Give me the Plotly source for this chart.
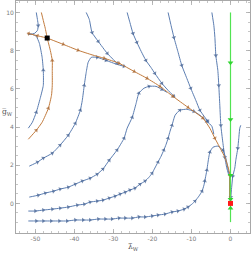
import plotly.graph_objects as go

# ---------------- data ----------------
saddle_x, saddle_y = [-47.0], [8.66]
fixed_x, fixed_y = [0.0], [0.0]

# orange separatrices
o1l_x = [-47.0, -49.5, -51.8]
o1l_y = [8.66, 8.78, 8.90]
o1r_x = [-47.0, -42.9, -39.1, -35.5, -32.4, -28.6, -24.7, -21.4, -18.1, -14.8, -10.9, -7.1, -5.3, -4.0, -1.46, -0.55, -0.1]
o1r_y = [8.66, 8.33, 8.02, 7.78, 7.60, 7.34, 6.91, 6.55, 6.13, 5.61, 5.03, 4.47, 3.94, 3.41, 2.42, 1.85, 1.45]
o2a_x = [-51.84, -49.8, -48.3, -46.7, -45.9, -45.7, -45.7, -45.7, -46.2, -47.0]
o2a_y = [3.36, 3.83, 4.25, 4.98, 5.66, 6.18, 6.97, 7.49, 8.01, 8.66]
o2b_x = [-48.5, -48.0, -47.5, -47.0]
o2b_y = [10.0, 9.58, 9.17, 8.66]
o3_x = [-0.2, -0.2]
o3_y = [1.40, 0.25]

# blue streamlines
b1a_x = [-49.8, -49.5, -49.3, -49.5, -50.3, -51.8]
b1a_y = [10.0, 9.63, 9.32, 9.06, 8.90, 8.85]
b1b_x = [-51.84, -50.8, -49.8, -48.8, -48.0, -48.0, -48.3, -49.0, -49.8, -50.8, -51.8]
b1b_y = [3.94, 4.25, 4.77, 5.50, 6.18, 6.97, 7.65, 8.38, 8.75, 8.85, 8.87]
b2_x = [-37.0, -36.2, -35.5, -33.9, -31.6, -29.1]
b2_y = [10.0, 9.63, 8.95, 8.48, 7.86, 7.34]
b3_x = [-26.5, -25.8, -25.0, -24.0, -22.9, -21.7, -20.4, -19.4, -17.6, -16.0, -14.5]
b3_y = [10.0, 9.48, 8.90, 8.43, 7.96, 7.49, 7.12, 6.81, 6.29, 5.92, 5.61]
b4_x = [-16.0, -15.3, -14.5, -13.5, -12.5, -11.2, -10.2, -8.9, -7.85, -6.8, -5.8]
b4_y = [10.0, 9.37, 8.69, 7.96, 7.23, 6.55, 6.03, 5.40, 4.88, 4.57, 4.30]
b5_x = [-4.78, -4.27, -4.0, -3.76, -3.25, -3.0, -2.74, -2.48, -1.97, -1.46, -0.95, -0.43]
b5_y = [10.0, 9.32, 8.69, 7.75, 6.97, 6.18, 5.14, 4.09, 3.20, 2.42, 1.85, 1.48]
c2_x = [-51.6, -49.5, -48.0, -45.7, -43.7, -41.6, -39.8, -38.5, -38.0, -37.5, -37.0, -36.5, -35.7, -34.2, -31.9, -29.1, -27.3]
c2_y = [1.95, 2.16, 2.37, 2.63, 3.05, 3.57, 4.19, 4.88, 5.40, 6.18, 6.86, 7.39, 7.65, 7.65, 7.49, 7.28, 7.18]
c3_x = [-51.6, -49.3, -47.5, -45.4, -43.7, -41.6, -39.8, -38.0, -36.0, -34.2, -32.7, -31.1, -29.1, -27.3, -26.5, -25.2, -24.2, -23.5, -22.2, -20.9, -19.1, -17.6, -16.3]
c3_y = [0.33, 0.43, 0.54, 0.64, 0.75, 0.85, 1.01, 1.17, 1.32, 1.53, 1.80, 2.26, 2.79, 3.41, 3.94, 4.51, 5.24, 5.77, 6.03, 6.13, 6.13, 5.97, 5.82]
c4_x = [-51.84, -50.05, -48.0, -45.7, -43.7, -41.6, -39.3, -37.5, -36.0, -34.2, -32.7, -31.1, -29.6, -28.3, -27.0, -25.8, -24.5, -23.2, -21.9, -20.9, -20.1, -19.4, -18.6, -17.8, -17.1, -16.5, -16.0, -15.5, -15.0, -14.2, -13.0, -11.2, -9.4, -7.85, -6.06, -4.78, -4.27]
c4_y = [-0.40, -0.40, -0.35, -0.30, -0.25, -0.19, -0.09, -0.04, 0.07, 0.12, 0.17, 0.28, 0.38, 0.49, 0.59, 0.70, 0.80, 1.01, 1.17, 1.37, 1.58, 1.85, 2.16, 2.47, 2.79, 3.10, 3.41, 3.78, 4.09, 4.62, 4.88, 4.93, 4.82, 4.62, 4.30, 4.04, 3.62]
c5_x = [-51.84, -49.8, -48.0, -46.0, -43.9, -41.9, -39.8, -37.8, -36.0, -33.9, -32.1, -30.4, -28.6, -27.0, -25.2, -23.5, -21.9, -20.1, -18.6, -16.8, -15.0, -13.5, -11.9, -10.9, -9.9, -9.1, -8.1, -7.3, -6.8, -6.6, -6.3, -6.06, -5.8, -5.3, -4.5, -3.25, -1.97, -1.2, -0.69, -0.43]
c5_y = [-0.92, -0.92, -0.92, -0.92, -0.92, -0.92, -0.87, -0.87, -0.87, -0.82, -0.82, -0.82, -0.77, -0.77, -0.77, -0.71, -0.71, -0.66, -0.61, -0.56, -0.45, -0.40, -0.30, -0.19, -0.04, 0.12, 0.38, 0.64, 0.96, 1.17, 1.48, 1.74, 2.11, 2.68, 2.94, 3.00, 2.79, 2.37, 1.85, 1.58]
r_x = [2.63, 2.38, 2.12, 1.87, 1.36, 1.10, 0.59, 0.33, 0.08]
r_y = [4.09, 3.94, 3.41, 2.89, 2.26, 1.85, 1.43, 0.91, 0.33]

# green invariant line
g_x = [0.0, 0.0, 0.0, 0.0, 0.0]
g_y = [10.0, 7.37, 4.40, 1.48, -0.98]
g_arrow_down_y = [7.37, 4.40, 1.48, 0.22]
g_arrow_up_y = [-0.25]

x_ticks = [-50, -40, -30, -20, -10, 0]
y_ticks = [0, 2, 4, 6, 8, 10]

BLUE = "#5b7db1"
BLUE_A = "#3f5d8e"
ORANGE = "#c27b3d"
ORANGE_A = "#a5612a"
GREEN = "#52e352"

fig = go.Figure()


def curve(xs, ys, color, acolor, arrows, size=4):
    n = len(xs)
    idx = set(arrows)
    sizes = [size if i in idx else 0 for i in range(n)]
    fig.add_trace(go.Scatter(
        x=xs, y=ys, mode="lines+markers",
        line=dict(color=color, width=1.0, shape="spline", smoothing=0.5),
        marker=dict(symbol="triangle-up", size=sizes, color=acolor, angleref="previous",
                    line=dict(width=0)),
        hoverinfo="skip", showlegend=False))


# blue
curve(b1a_x, b1a_y, BLUE, BLUE_A, [2])
curve(b1b_x, b1b_y, BLUE, BLUE_A, [2, 5])
curve(b2_x, b2_y, BLUE, BLUE_A, [2, 3, 4, 5])
curve(b3_x, b3_y, BLUE, BLUE_A, [2, 3, 5, 7, 8, 10])
curve(b4_x, b4_y, BLUE, BLUE_A, [2, 4, 6, 8, 10])
curve(b5_x, b5_y, BLUE, BLUE_A, [3, 5, 7, 9])
curve(c2_x, c2_y, BLUE, BLUE_A, [1, 2, 3, 4, 5, 6, 7, 9, 13, 14, 16])
curve(c3_x, c3_y, BLUE, BLUE_A, [1, 2, 3, 4, 5, 6, 7, 8, 9, 10, 11, 12, 13, 15, 17, 19, 21])
curve(c4_x, c4_y, BLUE, BLUE_A, [1, 2, 3, 4, 5, 6, 7, 8, 9, 10, 11, 12, 13, 14, 15, 16, 17, 18, 20, 22, 24, 26, 28, 30, 32, 34])
curve(c5_x, c5_y, BLUE, BLUE_A, [1, 2, 3, 4, 5, 6, 7, 8, 9, 10, 11, 12, 13, 14, 15, 16, 17, 18, 19, 20, 21, 22, 23, 25, 27, 29, 31, 33, 36])
curve(r_x, r_y, BLUE, BLUE_A, [3, 6, 8])

# orange
curve(o1l_x, o1l_y, ORANGE, ORANGE_A, [1, 2])
curve(o1r_x, o1r_y, ORANGE, ORANGE_A, [1, 2, 4, 5, 6, 7, 8, 9, 10, 11, 13, 16])
curve(o2a_x, o2a_y, ORANGE, ORANGE_A, [1, 3, 7])
curve(o2b_x, o2b_y, ORANGE, ORANGE_A, [])
fig.add_trace(go.Scatter(x=o3_x, y=o3_y, mode="lines", line=dict(color="#8d8a3a", width=1.2),
                         hoverinfo="skip", showlegend=False))

# green
fig.add_trace(go.Scatter(x=g_x, y=g_y, mode="lines", line=dict(color=GREEN, width=1.2),
                         hoverinfo="skip", showlegend=False))
fig.add_trace(go.Scatter(x=[0.0] * len(g_arrow_down_y), y=g_arrow_down_y, mode="markers",
                         marker=dict(symbol="triangle-down", size=5, color="#2fd42f"),
                         hoverinfo="skip", showlegend=False))
fig.add_trace(go.Scatter(x=[0.0] * len(g_arrow_up_y), y=g_arrow_up_y, mode="markers",
                         marker=dict(symbol="triangle-up", size=5, color="#2fd42f"),
                         hoverinfo="skip", showlegend=False))

# fixed points
fig.add_trace(go.Scatter(x=fixed_x, y=fixed_y, mode="markers",
                         marker=dict(symbol="square", size=5, color="#ff1a1a"),
                         hoverinfo="skip", showlegend=False))
fig.add_trace(go.Scatter(x=saddle_x, y=saddle_y, mode="markers",
                         marker=dict(symbol="square", size=5, color="black"),
                         hoverinfo="skip", showlegend=False))

axis_common = dict(
    showgrid=False, zeroline=False, showline=True, linecolor="#a8a8a8", linewidth=1,
    mirror="allticks", ticks="inside", ticklen=4, tickcolor="#a8a8a8", tickwidth=0.8,
    tickfont=dict(family="DejaVu Sans", size=6, color="#7a7a7a"), automargin=False,
)
fig.update_xaxes(range=[-55, 5], tickvals=x_ticks, ticktext=[str(v) for v in x_ticks],
                 minor=dict(dtick=2, ticks="inside", ticklen=2, tickcolor="#b8b8b8"),
                 **axis_common)
fig.update_yaxes(range=[-1.55, 10.6], tickvals=y_ticks, ticktext=[str(v) for v in y_ticks],
                 minor=dict(dtick=0.5, ticks="inside", ticklen=2, tickcolor="#b8b8b8"),
                 **axis_common)

fig.add_annotation(text="λ\u0304<sub>W</sub>", xref="paper", yref="paper", x=0.5, y=-0.032,
                   showarrow=False, font=dict(family="DejaVu Serif", size=7.5, color="#555"),
                   xanchor="center", yanchor="top")
fig.add_annotation(text="g\u0305<sub>W</sub>", xref="paper", yref="paper", x=-0.068, y=0.52,
                   showarrow=False, font=dict(family="DejaVu Serif", size=7.5, color="#555"),
                   xanchor="left", yanchor="middle")

fig.update_layout(width=251, height=253, margin=dict(l=16, r=1, t=1, b=20, autoexpand=False),
                  plot_bgcolor="white", paper_bgcolor="white", showlegend=False)

fig.write_html("out.html", config={"displayModeBar": False, "staticPlot": True},
               post_script="document.body.style.margin='0';document.body.style.padding='0';")
